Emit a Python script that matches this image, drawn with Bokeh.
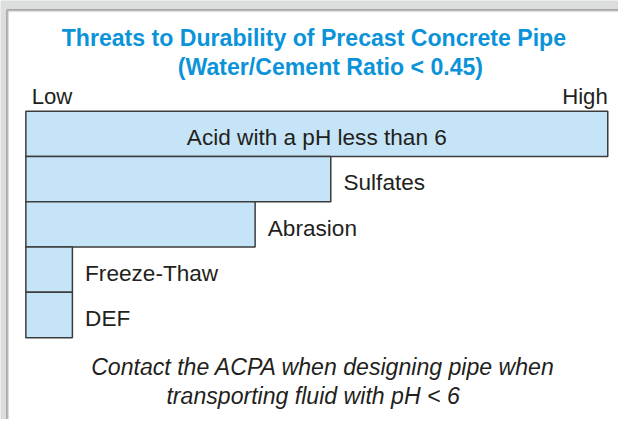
from bokeh.plotting import figure
from bokeh.models import Range1d, BoxAnnotation, ColumnDataSource
from bokeh.core.properties import value
from bokeh.embed import file_html
from bokeh.resources import INLINE

# ---- data ----
categories = ["Acid with a pH less than 6", "Sulfates", "Abrasion", "Freeze-Thaw", "DEF"]
threat_level = [100, 52.4, 39.4, 8, 8]
scale_labels = ["Low", "High"]
scale_values = [0, 100]
title_lines = ["Threats to Durability of Precast Concrete Pipe", "(Water/Cement Ratio < 0.45)"]
note_lines = ["Contact the ACPA when designing pipe when", "transporting fluid with pH < 6"]

# ---- layout: design space is the 634x435 reference, drawn into 618x419 ----
REF_W, REF_H = 634, 435
W, H = 618, 419
K = H / REF_H                 # font scale
PX_PER_X = 5.97               # design px per data unit along x
X0_PX = 26                    # design x of value 0
ROW_PX = 47                   # design px per bar row
ROW0_PX = 138.5               # design y of centre of row 0

XS = (0 - X0_PX) / PX_PER_X
XE = (REF_W - X0_PX) / PX_PER_X
YT = (0 - ROW0_PX) / ROW_PX
YB = (REF_H - ROW0_PX) / ROW_PX


def dx(px):
    return (px - X0_PX) / PX_PER_X


def dy(py):
    return (py - ROW0_PX) / ROW_PX


def fs(px):
    return f"{px * K:.1f}px"


BASE_FIX = 0.3  # em: renderer places 'alphabetic' text this much lower

TEXT = "#231f20"
BLUE = "#0b93da"
FONT = "Liberation Sans"

p = figure(width=W, height=H, output_backend="svg", toolbar_location=None,
           x_range=Range1d(XS, XE), y_range=Range1d(YB, YT),
           min_border=0, min_border_left=0, min_border_right=0,
           min_border_top=0, min_border_bottom=0)
p.xaxis.visible = False
p.yaxis.visible = False
p.grid.visible = False
p.outline_line_color = None
p.background_fill_color = "#dcdddd"
p.border_fill_color = "#dcdddd"

panel = BoxAnnotation(left=dx(7), right=dx(REF_W + 20), top=dy(10), bottom=dy(REF_H + 20),
                      fill_color="white", fill_alpha=1.0,
                      line_color="#2b2b2b", line_width=2.5, level="underlay")
p.add_layout(panel)

rows = list(range(len(categories)))
src = ColumnDataSource(dict(y=rows, right=threat_level, left=[0] * len(rows)))
p.hbar(y="y", left="left", right="right", height=1.0, source=src,
       fill_color="#c6e4f7", line_color="#3c3c3c", line_width=1.5)


def base(py, size):
    return dy(py - BASE_FIX * size)


# bar labels: inside (centered) when the bar is full, else right of the bar
LAB = 23.5
lab_x, lab_y, lab_align = [], [], []
for r, (c, v) in enumerate(zip(categories, threat_level)):
    if v >= 90:
        lab_x.append(v / 2)
        lab_align.append("center")
    else:
        lab_x.append(v + 13 / PX_PER_X)
        lab_align.append("left")
    lab_y.append(r + (10.8 - BASE_FIX * LAB) / ROW_PX)
p.text(x=lab_x, y=lab_y, text=categories, text_align=lab_align,
       text_baseline="alphabetic", text_font=value(FONT),
       text_font_size=fs(LAB), text_color=TEXT)

# Low / High scale ends
p.text(x=[scale_values[0] + 1.0, scale_values[1]], y=[base(106.5, 23)] * 2, text=scale_labels,
       text_align=["left", "right"], text_baseline="alphabetic",
       text_font=value(FONT), text_font_size=fs(23), text_color=TEXT)

# title
p.text(x=[dx(321.5), dx(338.5)], y=[base(45.7, 24), base(76.5, 24)], text=title_lines,
       text_align="center", text_baseline="alphabetic", text_font=value(FONT),
       text_font_size=fs(24), text_font_style="bold", text_color=BLUE)

# note
p.text(x=[dx(331.2), dx(320.7)], y=[base(388, 24), base(418, 24)], text=note_lines,
       text_align="center", text_baseline="alphabetic", text_font=value(FONT),
       text_font_size=fs(24), text_font_style="italic", text_color=TEXT)

open("out.html", "w").write(file_html(p, INLINE))
